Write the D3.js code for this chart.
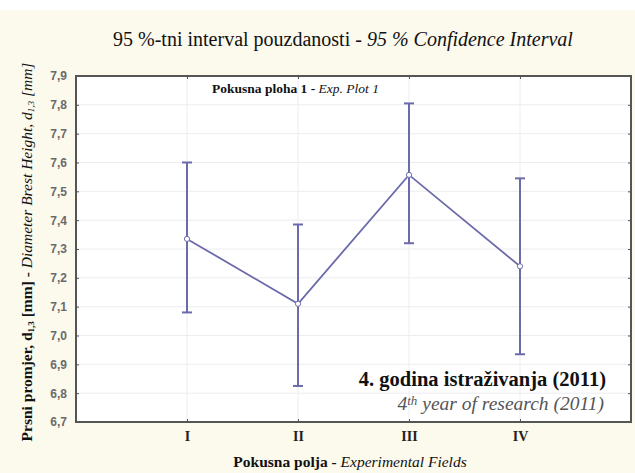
<!DOCTYPE html>
<html>
<head>
<meta charset="utf-8">
<script src="https://cdn.jsdelivr.net/npm/d3@7"></script>
<style>
  body { margin: 0; background: #fff; }
  svg { display: block; }
</style>
</head>
<body>
<svg width="635" height="473"></svg>
<script>
// data
const fields = ['I', 'II', 'III', 'IV'];
const means = [7.335, 7.11, 7.557, 7.24];
const upper = [7.60, 7.385, 7.805, 7.545];
const lower = [7.08, 6.825, 7.32, 6.935];
const yTicks = [6.7, 6.8, 6.9, 7.0, 7.1, 7.2, 7.3, 7.4, 7.5, 7.6, 7.7, 7.8, 7.9];

const svg = d3.select('svg');
const plotL = 76, plotR = 631, plotT = 76, plotB = 422;
const serif = 'Liberation Serif, Times New Roman, Times, DejaVu Serif, serif';
const lineColor = '#6b6bab';

svg.append('rect')
  .attr('x', 0).attr('y', 10).attr('width', 635).attr('height', 463)
  .attr('fill', '#fcf9ed');

svg.append('rect')
  .attr('x', plotL).attr('y', plotT)
  .attr('width', plotR - plotL).attr('height', plotB - plotT)
  .attr('fill', '#fff');

const x = d3.scaleLinear().domain([0, fields.length + 1]).range([plotL, plotR]);
const y = d3.scaleLinear().domain([6.7, 7.9]).range([plotB, plotT]);

// grid
svg.append('g').selectAll('line')
  .data(yTicks.slice(1, -1))
  .enter().append('line')
  .attr('x1', plotL).attr('x2', plotR)
  .attr('y1', d => y(d)).attr('y2', d => y(d))
  .attr('stroke', '#ececf2').attr('stroke-width', 1);

svg.append('g').selectAll('line')
  .data(fields)
  .enter().append('line')
  .attr('x1', (d, i) => x(i + 1)).attr('x2', (d, i) => x(i + 1))
  .attr('y1', plotT).attr('y2', plotB)
  .attr('stroke', '#ececf2').attr('stroke-width', 1);

// axes
const fmt = d => d.toFixed(1).replace('.', ',');

const yAxis = svg.append('g')
  .attr('transform', `translate(${plotL},0)`)
  .call(d3.axisLeft(y).tickValues(yTicks).tickSize(-3).tickPadding(9).tickFormat(fmt));
yAxis.select('.domain').remove();
yAxis.selectAll('.tick line').attr('stroke', '#555');
yAxis.selectAll('.tick text')
  .attr('font-family', 'Liberation Sans, Arial, sans-serif')
  .attr('font-weight', 'bold').attr('font-size', 12).attr('fill', '#6a6a6a');

const yAxisR = svg.append('g')
  .attr('transform', `translate(${plotR},0)`)
  .call(d3.axisRight(y).tickValues(yTicks).tickSize(-3).tickFormat(''));
yAxisR.select('.domain').remove();
yAxisR.selectAll('.tick line').attr('stroke', '#555');

const xAxis = svg.append('g')
  .attr('transform', `translate(0,${plotB})`)
  .call(d3.axisBottom(x).tickValues([1, 2, 3, 4]).tickSize(-3).tickPadding(9)
    .tickFormat(d => fields[d - 1]));
xAxis.select('.domain').remove();
xAxis.selectAll('.tick line').attr('stroke', '#555');
xAxis.selectAll('.tick text')
  .attr('font-family', serif).attr('font-weight', 'bold')
  .attr('font-size', 14).attr('fill', '#222');

const xAxisT = svg.append('g')
  .attr('transform', `translate(0,${plotT})`)
  .call(d3.axisTop(x).tickValues([1, 2, 3, 4]).tickSize(-3).tickFormat(''));
xAxisT.select('.domain').remove();
xAxisT.selectAll('.tick line').attr('stroke', '#555');

svg.append('rect')
  .attr('x', plotL).attr('y', plotT)
  .attr('width', plotR - plotL).attr('height', plotB - plotT)
  .attr('fill', 'none').attr('stroke', '#555').attr('stroke-width', 2);

// error bars
const bars = svg.append('g').attr('stroke', lineColor).attr('stroke-width', 2);
fields.forEach((f, i) => {
  const cx = x(i + 1);
  bars.append('line')
    .attr('x1', cx).attr('x2', cx)
    .attr('y1', y(lower[i])).attr('y2', y(upper[i]));
  [lower[i], upper[i]].forEach(v => {
    bars.append('line')
      .attr('x1', cx - 5).attr('x2', cx + 5)
      .attr('y1', y(v)).attr('y2', y(v));
  });
});

const line = d3.line()
  .x((d, i) => x(i + 1))
  .y(d => y(d));

svg.append('path')
  .datum(means)
  .attr('d', line)
  .attr('fill', 'none')
  .attr('stroke', lineColor)
  .attr('stroke-width', 1.8);

svg.append('g').selectAll('circle')
  .data(means)
  .enter().append('circle')
  .attr('cx', (d, i) => x(i + 1))
  .attr('cy', d => y(d))
  .attr('r', 2.6)
  .attr('fill', '#fff')
  .attr('stroke', lineColor)
  .attr('stroke-width', 1);

// texts
const title = svg.append('text')
  .attr('x', 343).attr('y', 46)
  .attr('text-anchor', 'middle')
  .attr('font-family', serif).attr('font-size', 20).attr('fill', '#111');
title.append('tspan').text('95 %-tni interval pouzdanosti - ');
title.append('tspan').attr('font-style', 'italic').text('95 % Confidence Interval');

const plotLabel = svg.append('text')
  .attr('x', 212).attr('y', 93)
  .attr('font-family', serif).attr('font-size', 13.5).attr('fill', '#111');
plotLabel.append('tspan').attr('font-weight', 'bold').text('Pokusna ploha 1 - ');
plotLabel.append('tspan').attr('font-style', 'italic').text('Exp. Plot 1');

svg.append('text')
  .attr('x', 606).attr('y', 386)
  .attr('text-anchor', 'end')
  .attr('font-family', serif).attr('font-weight', 'bold')
  .attr('font-size', 20.5).attr('fill', '#111')
  .text('4. godina istraživanja (2011)');

const year = svg.append('text')
  .attr('x', 604).attr('y', 410)
  .attr('text-anchor', 'end')
  .attr('font-family', serif).attr('font-style', 'italic')
  .attr('font-size', 19.5).attr('fill', '#555');
year.append('tspan').text('4');
year.append('tspan').attr('dy', -5).attr('font-size', 13).text('th');
year.append('tspan').attr('dy', 5).text(' year of research (2011)');

const xLabel = svg.append('text')
  .attr('x', 350).attr('y', 467)
  .attr('text-anchor', 'middle')
  .attr('font-family', serif).attr('font-size', 15.5).attr('fill', '#111');
xLabel.append('tspan').attr('font-weight', 'bold').text('Pokusna polja - ');
xLabel.append('tspan').attr('font-style', 'italic').text('Experimental Fields');

const yLabel = svg.append('text')
  .attr('transform', 'translate(32,252) rotate(-90)')
  .attr('text-anchor', 'middle')
  .attr('font-family', serif).attr('font-size', 15.5).attr('fill', '#111');
yLabel.append('tspan').attr('font-weight', 'bold').text('Prsni promjer, d');
yLabel.append('tspan').attr('font-weight', 'bold').attr('font-size', 9).attr('dy', 2).text('1,3');
yLabel.append('tspan').attr('font-weight', 'bold').attr('dy', -2).text(' [mm] - ');
yLabel.append('tspan').attr('font-style', 'italic').text('Diameter Brest Height, d');
yLabel.append('tspan').attr('font-style', 'italic').attr('font-size', 9).attr('dy', 2).text('1,3');
yLabel.append('tspan').attr('font-style', 'italic').attr('dy', -2).text(' [mm]');
</script>
</body>
</html>
